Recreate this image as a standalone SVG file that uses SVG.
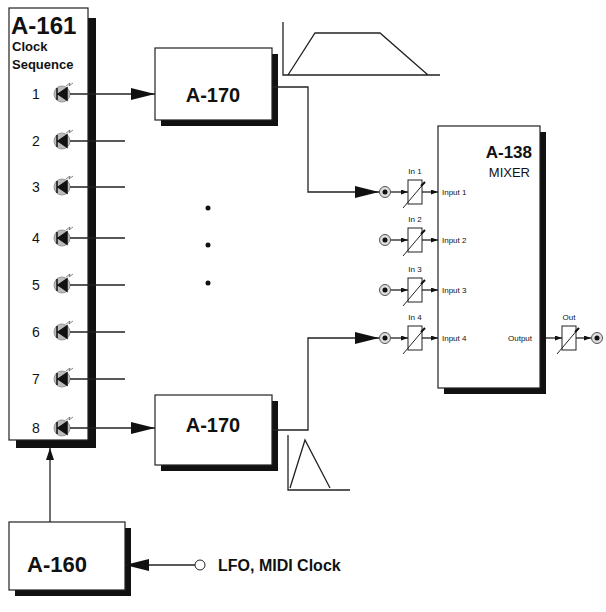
<svg xmlns="http://www.w3.org/2000/svg" width="606" height="612" viewBox="0 0 606 612">
<style>
.box{fill:#fff;stroke:#222;stroke-width:1.2}
.sh{fill:#111}
.ln{stroke:#222;stroke-width:1.3;fill:none}
.t{font-family:"Liberation Sans",Arial,sans-serif;fill:#111}
.b{font-weight:bold}
.s{font-size:8px}
</style>
<defs>
<marker id="ah" markerWidth="12" markerHeight="8" refX="12" refY="4" orient="auto" markerUnits="userSpaceOnUse"><path d="M0,0L12,4L0,8z" fill="#111"/></marker>
<marker id="big" markerWidth="24" markerHeight="12" refX="24" refY="6" orient="auto" markerUnits="userSpaceOnUse"><path d="M0,0L24,6L0,12z" fill="#111"/></marker>
<marker id="sm" markerWidth="7" markerHeight="5" refX="7" refY="2.5" orient="auto" markerUnits="userSpaceOnUse"><path d="M0,0L7,2.5L0,5z" fill="#111"/></marker>
<g id="led"><circle r="8" fill="#bbb" stroke="#999"/><path d="M-5,-6V6M-4,0L5,-6V6z" fill="#111" stroke="#111" stroke-width="1.5"/><path d="M4,-8l4,-3l-1,3l4,-3" stroke="#666" fill="none" stroke-width="0.8"/></g>
<g id="jack"><circle r="5.5" fill="#ddd" stroke="#555"/><circle r="2.5" fill="#111"/></g>
<g id="pot"><rect x="-7" y="-12" width="14" height="24" fill="#fff" stroke="#222"/><path d="M-12,16L10,-10" stroke="#222" fill="none"/><path d="M6,-6l4,-4" stroke="#111" stroke-width="2"/></g>
</defs>
<g id="a161">
<rect class="sh" x="88" y="18" width="8" height="430"/>
<rect class="sh" x="16" y="440" width="80" height="8"/>
<rect class="box" x="9" y="8" width="79" height="432"/>
<text class="t b" x="11" y="34" font-size="24">A-161</text>
<text class="t b" x="12" y="51" font-size="13">Clock</text>
<text class="t b" x="12" y="69" font-size="13">Sequence</text>
<g class="t" font-size="14">
<text x="32" y="99">1</text><text x="32" y="146">2</text><text x="32" y="192">3</text><text x="32" y="243">4</text>
<text x="32" y="290">5</text><text x="32" y="337">6</text><text x="32" y="384">7</text><text x="32" y="433">8</text>
</g>
<use href="#led" x="62" y="94"/><use href="#led" x="62" y="141"/><use href="#led" x="62" y="187"/><use href="#led" x="62" y="238"/>
<use href="#led" x="62" y="285"/><use href="#led" x="62" y="332"/><use href="#led" x="62" y="379"/><use href="#led" x="62" y="428"/>
</g>
<g id="a170top">
<rect class="sh" x="161" y="54" width="117" height="72"/>
<rect class="box" x="155" y="48" width="117" height="72"/>
<text class="t b" x="213" y="102" font-size="20" text-anchor="middle">A-170</text>
</g>
<g id="a170bot">
<rect class="sh" x="161" y="401" width="117" height="70"/>
<rect class="box" x="155" y="395" width="117" height="70"/>
<text class="t b" x="213" y="432" font-size="20" text-anchor="middle">A-170</text>
</g>
<g id="env">
<path class="ln" d="M283,22V75H440M288,75L315,33H380L428,75"/>
<path class="ln" d="M288,435V490H350M290,488L305,440L330,488"/>
<circle cx="208" cy="208" r="2.5" fill="#111"/><circle cx="208" cy="245" r="2.5" fill="#111"/><circle cx="208" cy="283" r="2.5" fill="#111"/>
</g>
<g id="a138">
<rect class="sh" x="444" y="132" width="102" height="262"/>
<rect class="box" x="438" y="126" width="102" height="262"/>
<text class="t b" x="532" y="158" font-size="17" text-anchor="end">A-138</text>
<text class="t" x="530" y="177" font-size="13" text-anchor="end">MIXER</text>
<g class="t s"><text x="442" y="195">Input 1</text><text x="442" y="243">Input 2</text><text x="442" y="293">Input 3</text><text x="442" y="341">Input 4</text><text x="508" y="341">Output</text></g>
<g class="t s" text-anchor="middle"><text x="415" y="174">In 1</text><text x="415" y="222">In 2</text><text x="415" y="272">In 3</text><text x="415" y="320">In 4</text><text x="569" y="320">Out</text></g>
<use href="#jack" x="385" y="192"/><use href="#jack" x="385" y="240"/><use href="#jack" x="385" y="290"/><use href="#jack" x="385" y="338"/><use href="#jack" x="597" y="338"/>
<use href="#pot" x="415" y="192"/><use href="#pot" x="415" y="240"/><use href="#pot" x="415" y="290"/><use href="#pot" x="415" y="338"/><use href="#pot" x="569" y="338"/>
</g>
<g id="a160">
<rect class="sh" x="15" y="528" width="116" height="68"/>
<rect class="box" x="9" y="522" width="116" height="68"/>
<text class="t b" x="57" y="572" font-size="22" text-anchor="middle">A-160</text>
<circle cx="200" cy="565" r="5" fill="#fff" stroke="#222"/>
<text class="t b" x="218" y="571" font-size="16">LFO, MIDI Clock</text>
</g>
<g id="connectors">
<path class="ln" d="M70,94H155" marker-end="url(#big)"/>
<path class="ln" d="M70,141H125M70,187H125M70,238H125M70,285H125M70,332H125M70,379H125"/>
<path class="ln" d="M70,428H155" marker-end="url(#big)"/>
<path class="ln" d="M272,87H308V192H379" marker-end="url(#big)"/>
<path class="ln" d="M272,430H308V338H379" marker-end="url(#big)"/>
<path class="ln" d="M50,522V448" marker-end="url(#ah)"/>
<path class="ln" d="M195,565H125" marker-end="url(#big)"/>
<g class="ln">
<path d="M391,192H408" marker-end="url(#sm)"/><path d="M422,192H438" marker-end="url(#sm)"/>
<path d="M391,240H408" marker-end="url(#sm)"/><path d="M422,240H438" marker-end="url(#sm)"/>
<path d="M391,290H408" marker-end="url(#sm)"/><path d="M422,290H438" marker-end="url(#sm)"/>
<path d="M391,338H408" marker-end="url(#sm)"/><path d="M422,338H438" marker-end="url(#sm)"/>
<path d="M546,338H562" marker-end="url(#sm)"/><path d="M576,338H591" marker-end="url(#sm)"/>
</g>
</g>
</svg>
